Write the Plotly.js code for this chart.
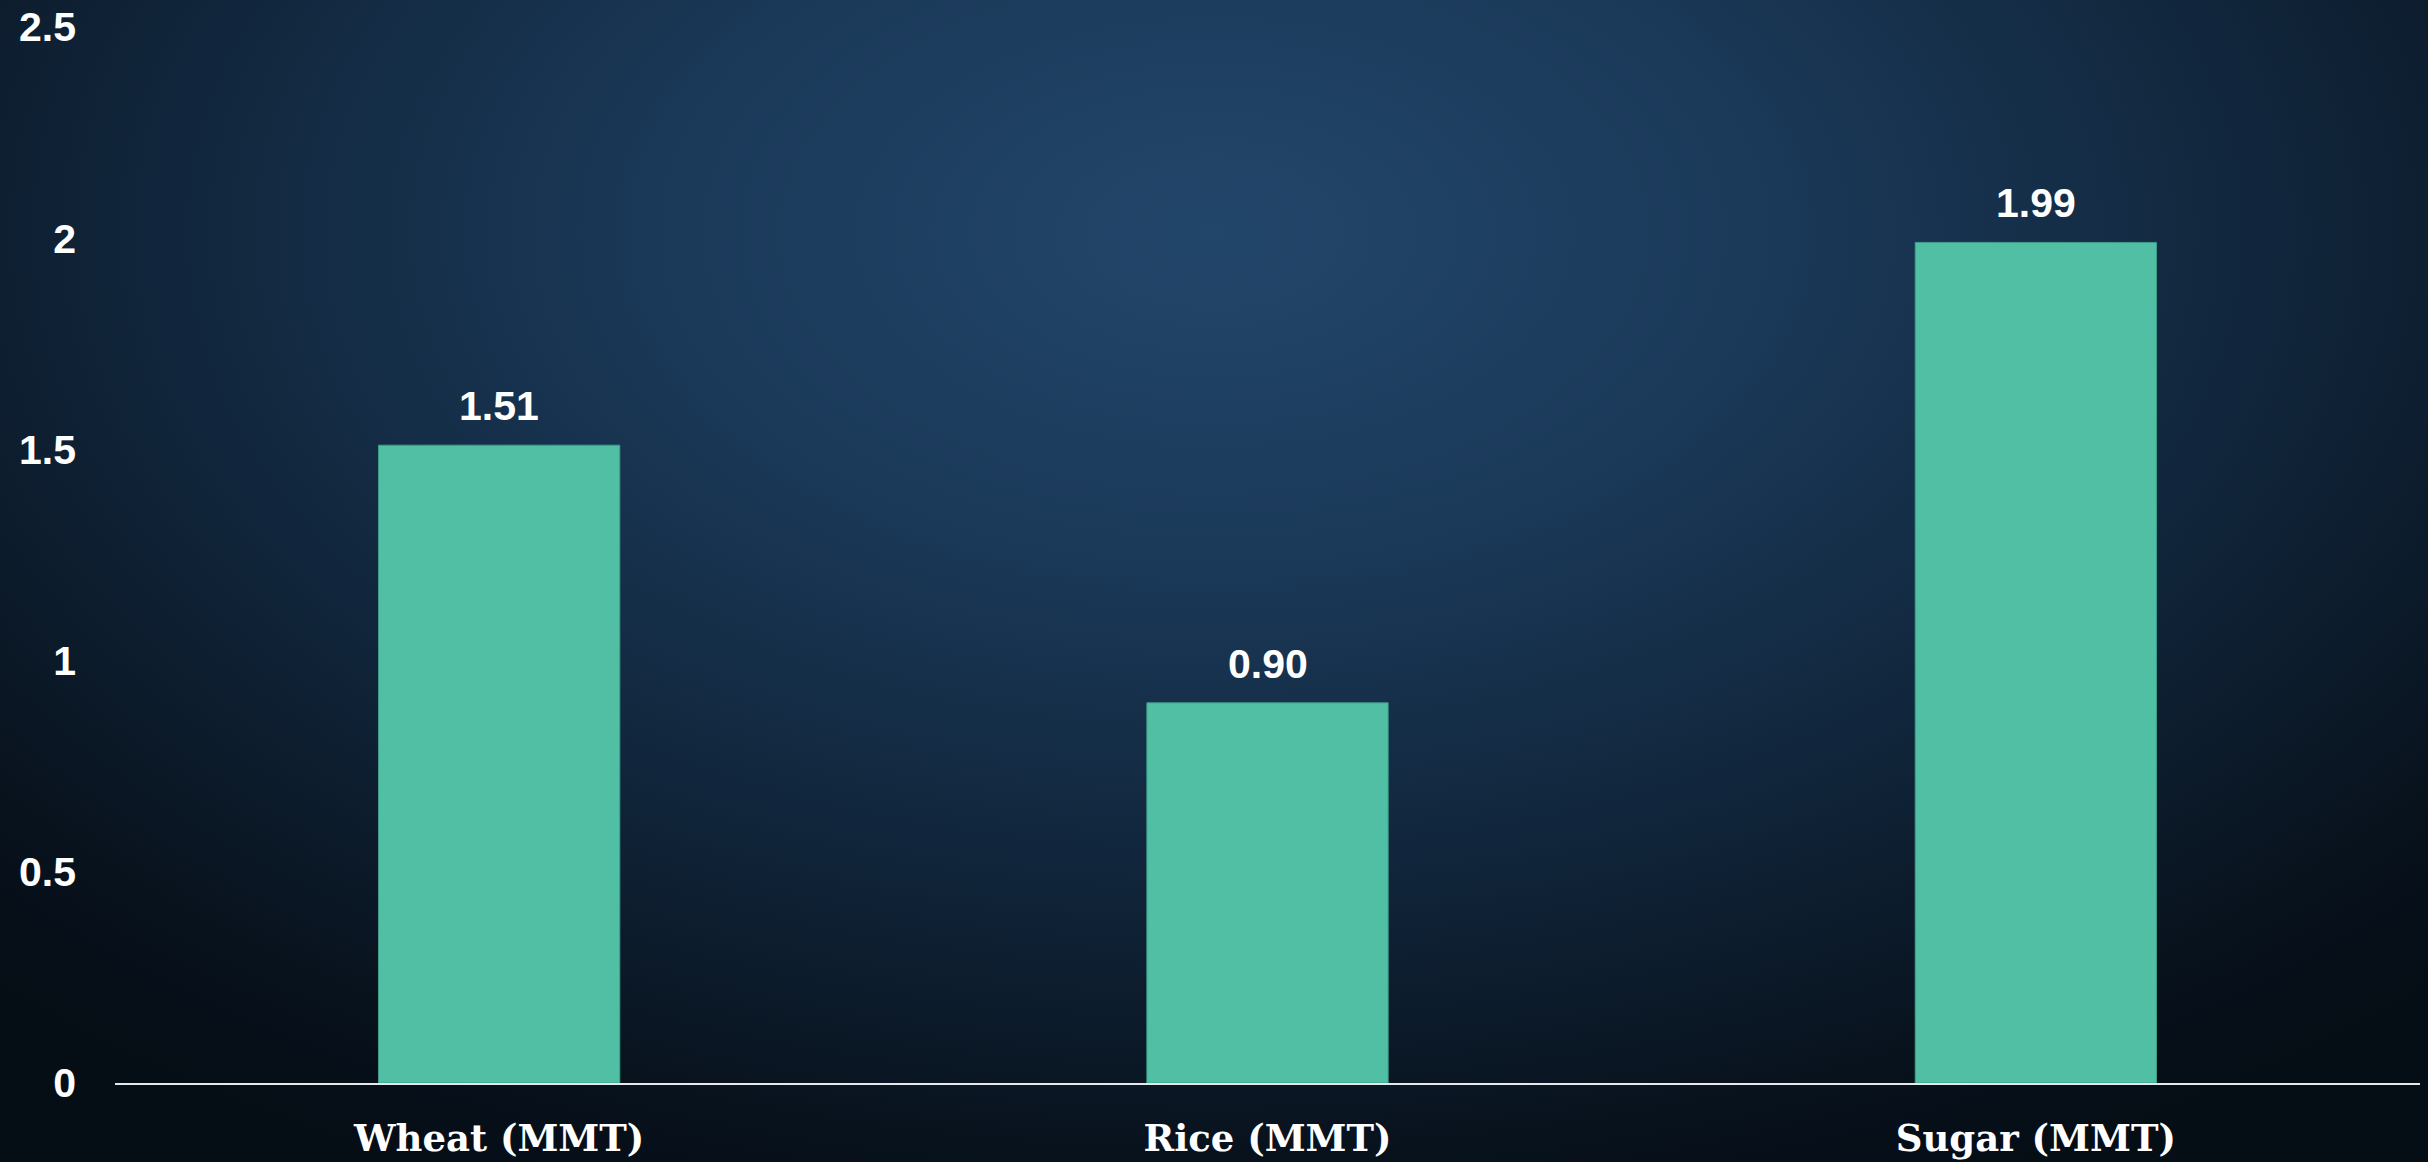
<!DOCTYPE html>
<html>
<head>
<meta charset="utf-8">
<script src="https://cdn.plot.ly/plotly-3.0.1.min.js"></script>
<style>
  html, body { margin:0; padding:0; width:2428px; height:1162px; overflow:hidden; }
  body {
    background:
      radial-gradient(ellipse 72% 90% at 50% 20%, rgba(34,70,106,1) 0%, rgba(27,58,90,1) 30%, rgba(17,38,60,1) 60%, rgba(8,18,29,1) 88%, rgba(5,13,21,1) 100%);
  }
  #chart { width:2428px; height:1162px; }
</style>
</head>
<body>
<div id="chart"></div>
<script>
const categories = ["Wheat (MMT)", "Rice (MMT)", "Sugar (MMT)"];
const values = [1.51, 0.90, 1.99];
const valueLabels = ["1.51", "0.90", "1.99"];
const yTickVals = [0, 0.5, 1, 1.5, 2, 2.5];
const yTickText = ["0", "0.5", "1", "1.5", "2", "2.5"];

const trace = {
  type: "bar",
  x: categories,
  y: values,
  marker: { color: "#51bfa4", line: { color: "#3f9e8a", width: 1 } },
  hoverinfo: "none"
};

const annotations = categories.map((c, i) => ({
  x: c, y: values[i], xref: "x", yref: "y",
  text: valueLabels[i], showarrow: false,
  yanchor: "bottom", yshift: 14,
  font: { family: "Liberation Sans, Arial, sans-serif", size: 41, color: "#ffffff", weight: "bold" }
}));

const layout = {
  width: 2428, height: 1162,
  paper_bgcolor: "rgba(0,0,0,0)",
  plot_bgcolor: "rgba(0,0,0,0)",
  margin: { l: 115, r: 8, t: 27, b: 79, pad: 0 },
  bargap: 0.686,
  showlegend: false,
  xaxis: {
    type: "category",
    showline: true, linecolor: "#e6e8ea", linewidth: 2,
    showgrid: false, zeroline: false, ticks: "",
    ticklabelstandoff: 22,
    tickfont: { family: "DejaVu Serif, serif", size: 37, color: "#ffffff", weight: "bold" }
  },
  yaxis: {
    range: [0, 2.5],
    tickvals: yTickVals, ticktext: yTickText,
    showline: false, showgrid: false, zeroline: false, ticks: "",
    ticklabelstandoff: 38,
    tickfont: { family: "Liberation Sans, Arial, sans-serif", size: 41, color: "#ffffff", weight: "bold" }
  },
  annotations: annotations
};

Plotly.newPlot("chart", [trace], layout, { staticPlot: true, displayModeBar: false });
</script>
</body>
</html>
